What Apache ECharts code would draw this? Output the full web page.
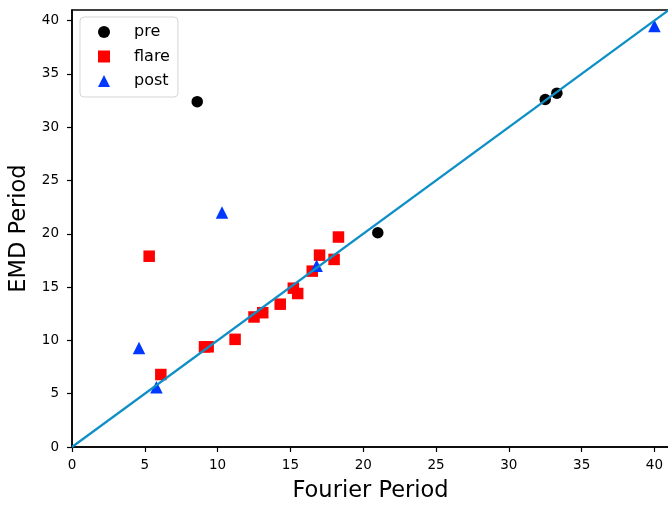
<!DOCTYPE html>
<html>
<head>
<meta charset="utf-8">
<script src="https://cdn.jsdelivr.net/npm/echarts@6/dist/echarts.min.js"></script>
<style>
html,body{margin:0;padding:0;background:#fff;}
#chart{width:668px;height:506px;}
</style>
</head>
<body>
<div id="chart"></div>
<script>
// Data
const seriesNames = ['pre', 'flare', 'post'];
const preX = [8.6, 21.0, 32.5, 33.3];
const preY = [32.4, 20.1, 32.6, 33.2];
const flareX = [5.3, 6.1, 9.1, 9.35, 11.2, 12.5, 13.1, 14.3, 15.2, 15.5, 16.5, 17.0, 18.0, 18.3];
const flareY = [17.9, 6.8, 9.4, 9.4, 10.1, 12.2, 12.6, 13.4, 14.9, 14.4, 16.5, 18.0, 17.6, 19.7];
const postX = [4.6, 5.8, 10.3, 16.8, 40.0];
const postY = [9.3, 5.6, 22.0, 17.0, 39.5];
const identityLine = [0, 41];
const xTicks = [0, 5, 10, 15, 20, 25, 30, 35, 40];
const yTicks = [0, 5, 10, 15, 20, 25, 30, 35, 40];
const axisMin = 0, axisMax = 41;

const zip = (xs, ys) => xs.map((x, i) => [x, ys[i]]);
const font = 'DejaVu Sans';

const chart = echarts.init(document.getElementById('chart'), null, {renderer: 'canvas'});

const axisCommon = {
  type: 'value',
  min: axisMin,
  max: axisMax,
  interval: 5,
  splitLine: {show: false},
  axisLine: {show: true, onZero: false, lineStyle: {color: '#000', width: 1.5}},
  axisTick: {show: true, inside: false, length: 5, customValues: xTicks, lineStyle: {color: '#000', width: 1.2}},
  axisLabel: {show: true, customValues: xTicks, color: '#000', fontFamily: font, fontSize: 13.5},
  nameLocation: 'middle',
  nameTextStyle: {color: '#000', fontFamily: font, fontSize: 22.5}
};

chart.setOption({
  animation: false,
  backgroundColor: '#fff',
  grid: {left: 72, top: 10, right: -1, bottom: 59, containLabel: false, outerBoundsMode: 'none', show: true, borderColor: '#000', borderWidth: 1.5, backgroundColor: 'transparent'},
  legend: {
    data: seriesNames,
    orient: 'vertical',
    left: 80,
    top: 17,
    itemWidth: 12,
    itemHeight: 12,
    itemGap: 6.5,
    padding: [6, 8, 7, 18],
    backgroundColor: 'rgba(255,255,255,0.8)',
    borderColor: '#d5d5d5',
    borderWidth: 1,
    borderRadius: 4,
    textStyle: {color: '#000', fontFamily: font, fontSize: 16, lineHeight: 18, padding: [0, 0, 0, 19]}
  },
  xAxis: Object.assign({}, axisCommon, {
    name: 'Fourier Period',
    nameGap: 33,
    axisLabel: Object.assign({}, axisCommon.axisLabel, {customValues: xTicks, margin: 11})
  }),
  yAxis: Object.assign({}, axisCommon, {
    name: 'EMD Period',
    nameGap: 41,
    axisTick: Object.assign({}, axisCommon.axisTick, {customValues: yTicks}),
    axisLabel: Object.assign({}, axisCommon.axisLabel, {customValues: yTicks, margin: 13})
  }),
  series: [
    {name: 'pre', type: 'scatter', symbol: 'circle', symbolSize: 11.5, itemStyle: {color: '#000000', opacity: 1}, data: zip(preX, preY), z: 2},
    {name: 'flare', type: 'scatter', symbol: 'rect', symbolSize: 11.5, itemStyle: {color: '#ff0000', opacity: 1}, data: zip(flareX, flareY), z: 3},
    {name: 'post', type: 'scatter', symbol: 'triangle', symbolSize: 12.5, itemStyle: {color: '#0038ff', opacity: 1}, data: zip(postX, postY), z: 4},
    {name: 'identity', type: 'line', data: zip(identityLine, identityLine), showSymbol: false, symbol: 'none', clip: true, lineStyle: {color: '#0e8fc6', width: 2.2}, itemStyle: {color: '#0e8fc6'}, z: 5, silent: true}
  ]
});
</script>
</body>
</html>
